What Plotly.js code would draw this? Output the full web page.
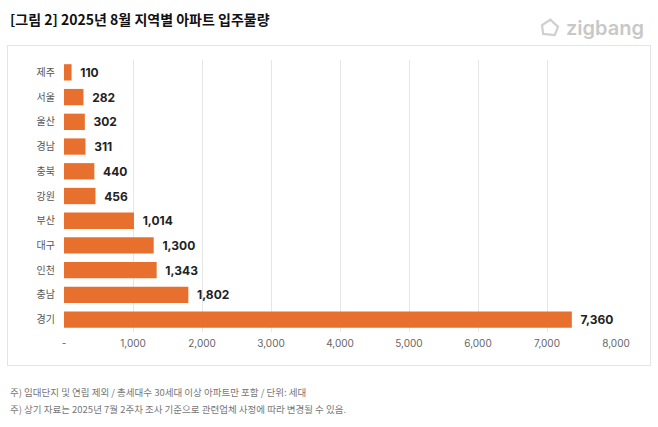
<!DOCTYPE html>
<html>
<head>
<meta charset="utf-8">
<script src="https://cdn.plot.ly/plotly-3.0.1.min.js"></script>
<style>
  html, body { margin: 0; padding: 0; background: #fff; }
  #wrap { position: relative; width: 658px; height: 427px; }
  #card {
    position: absolute; left: 7px; top: 45px; width: 644px; height: 321px;
    border: 1px solid #e4e4e4; box-sizing: border-box;
  }
  #chart { position: absolute; left: 0; top: 0; width: 658px; height: 427px; }
</style>
</head>
<body>
<div id="wrap">
  <div id="card"></div>
  <div id="chart"></div>
</div>
<script>
// 지역별 입주물량 (세대)
const regions = ['제주', '서울', '울산', '경남', '충북', '강원', '부산', '대구', '인천', '충남', '경기'];
const units = [110, 282, 302, 311, 440, 456, 1014, 1300, 1343, 1802, 7360];
const xTicks = [0, 1000, 2000, 3000, 4000, 5000, 6000, 7000, 8000];
const xTickText = ['-', '1,000', '2,000', '3,000', '4,000', '5,000', '6,000', '7,000', '8,000'];

const KR = '"Noto Sans CJK KR", "Noto Sans", sans-serif';
const NUM = 'Inter, "Noto Sans CJK KR", sans-serif';

const fmt = v => v.toLocaleString('en-US');

const data = [{
  type: 'bar',
  orientation: 'h',
  y: regions,
  x: units,
  width: 0.66,
  marker: { color: '#e8702f' },
  text: units.map(v => '\u00a0\u00a0' + fmt(v)),
  textposition: 'outside',
  cliponaxis: false,
  textfont: { family: NUM, size: 12, color: '#222', weight: 700 },
  hoverinfo: 'skip'
}];

const layout = {
  width: 658, height: 427,
  margin: { l: 64, r: 42, t: 60, b: 95 },
  paper_bgcolor: 'rgba(0,0,0,0)',
  plot_bgcolor: 'rgba(0,0,0,0)',
  showlegend: false,
  title: {
    text: '[그림 2] 2025년 8월 지역별 아파트 입주물량',
    xref: 'container', yref: 'container',
    x: 10 / 658, xanchor: 'left',
    y: 1 - 20 / 427, yanchor: 'middle',
    font: { family: KR, size: 14, color: '#111', weight: 700 }
  },
  xaxis: {
    range: [0, 8000],
    tickvals: xTicks,
    ticktext: xTickText,
    showgrid: true,
    gridcolor: '#e6e6e6',
    gridwidth: 1,
    zeroline: false,
    showline: false,
    ticks: '',
    ticklabelstandoff: 4,
    tickfont: { family: NUM, size: 10, color: '#666' },
    fixedrange: true
  },
  yaxis: {
    autorange: 'reversed',
    showgrid: false,
    zeroline: false,
    showline: false,
    ticks: '',
    ticklabelstandoff: 8,
    tickfont: { family: KR, size: 10, color: '#555' },
    fixedrange: true
  },
  annotations: [
    {
      text: 'zigbang', xref: 'paper', yref: 'paper',
      x: 1 + 30 / 552, y: 1 + 32 / 272, xanchor: 'right', yanchor: 'middle',
      showarrow: false,
      font: { family: 'Inter, "Open Sans", sans-serif', size: 20, color: '#c8c8c8', weight: 600 }
    },
    {
      text: '주) 임대단지 및 연립 제외 / 총세대수 30세대 이상 아파트만 포함 / 단위: 세대',
      xref: 'paper', yref: 'paper',
      x: -56 / 552, y: -(392 - 332) / 272, xanchor: 'left', yanchor: 'middle',
      showarrow: false,
      font: { family: KR, size: 9.5, color: '#777' }
    },
    {
      text: '주) 상기 자료는 2025년 7월 2주차 조사 기준으로 관련업체 사정에 따라 변경될 수 있음.',
      xref: 'paper', yref: 'paper',
      x: -56 / 552, y: -(409 - 332) / 272, xanchor: 'left', yanchor: 'middle',
      showarrow: false,
      font: { family: KR, size: 9.5, color: '#777' }
    }
  ],
  shapes: [
    // 로고 아이콘 (직방 집 모양 단순화)
    {
      type: 'path', xref: 'paper', yref: 'paper',
      path: 'M 0.866,1.128 L 0.881,1.148 L 0.895,1.122 L 0.889,1.092 L 0.868,1.096 Z',
      line: { color: '#cfcfcf', width: 2.2 }, fillcolor: 'rgba(0,0,0,0)'
    }
  ]
};

Plotly.newPlot('chart', data, layout, { displayModeBar: false, staticPlot: true });
</script>
</body>
</html>
